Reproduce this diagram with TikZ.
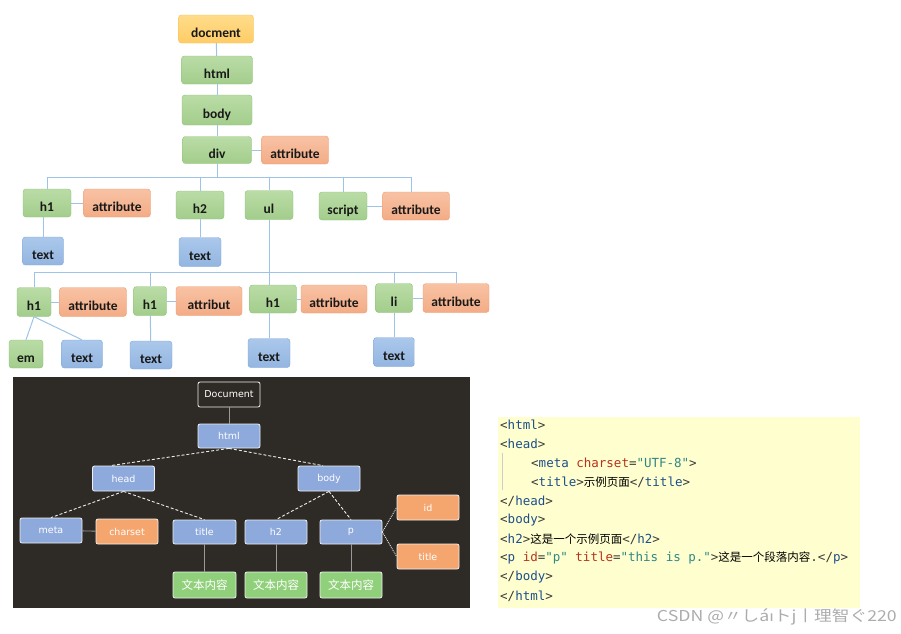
\documentclass[tikz,border=0pt]{standalone}
\usepackage{fontspec}
\usepackage{xcolor}
\usepackage{graphicx}
\usepackage{tikz}
\usetikzlibrary{positioning,calc}
\newfontfamily\treefont{Carlito}
\newfontfamily\panelfont{DejaVu Sans}
\newfontfamily\codefont{DejaVu Sans Mono}
\newfontfamily\cjk{Noto Sans CJK SC}
\definecolor{linkblue}{HTML}{9DC3E6}
\definecolor{greentop}{HTML}{BADCA6}
\definecolor{greenbot}{HTML}{A3CD8C}
\definecolor{greenline}{HTML}{8CC277}
\definecolor{orangetop}{HTML}{F8C2A4}
\definecolor{orangebot}{HTML}{F3AC86}
\definecolor{orangeline}{HTML}{EF9C6E}
\definecolor{bluetop}{HTML}{ABC8EB}
\definecolor{bluebot}{HTML}{93B5E0}
\definecolor{blueline}{HTML}{7FA6D8}
\definecolor{yellowtop}{HTML}{FFDC8A}
\definecolor{yellowbot}{HTML}{FFCC66}
\definecolor{yellowline}{HTML}{F5C04F}
\definecolor{panelbg}{HTML}{2E2B27}
\definecolor{panelblue}{HTML}{8EA9DB}
\definecolor{panelorange}{HTML}{F5A66F}
\definecolor{panelgreen}{HTML}{90D07B}
\definecolor{codebg}{HTML}{FEFECE}
\definecolor{tagc}{HTML}{1E4E8C}
\definecolor{attrc}{HTML}{B8321E}
\definecolor{valc}{HTML}{2E8787}
\definecolor{bracketc}{HTML}{3A3A3A}
\newcommand\tg[1]{\textcolor{tagc}{#1}}
\newcommand\ak[1]{\textcolor{attrc}{#1}}
\newcommand\av[1]{\textcolor{valc}{#1}}
\newcommand\zh[1]{{\cjk\fontsize{11.5}{14}\selectfont\color{black}#1}}

\begin{document}
\begin{tikzpicture}[x=1pt,y=-1pt,
  tbox/.style={rounded corners=3pt, inner sep=0pt, minimum height=28,
    text height=16pt, text depth=0pt,
    font=\treefont\bfseries\fontsize{13.5}{15}\selectfont, text=black!90},
  gbox/.style={tbox, draw=greenline, top color=greentop, bottom color=greenbot},
  obox/.style={tbox, draw=orangeline, top color=orangetop, bottom color=orangebot},
  bbox/.style={tbox, draw=blueline, top color=bluetop, bottom color=bluebot},
  ybox/.style={tbox, draw=yellowline, top color=yellowtop, bottom color=yellowbot},
  link/.style={draw=linkblue, line width=1pt},
  pbox/.style={rounded corners=2pt, draw=white!88!gray, line width=0.8pt, inner sep=0pt,
    minimum width=62, minimum height=25, text=white,
    font=\panelfont\fontsize{9.5}{11}\selectfont},
  pblue/.style={pbox, fill=panelblue},
  porange/.style={pbox, fill=panelorange},
  pgreen/.style={pbox, fill=panelgreen, font=\cjk\fontsize{11.5}{13}\selectfont},
  plink/.style={draw=white!85!gray, line width=0.9pt, densely dashed},
  pstem/.style={draw=gray!80, line width=0.9pt},
  code/.style={anchor=west, inner sep=0pt, text=bracketc,
    font=\codefont\fontsize{12.5}{14}\selectfont},
]
\useasboundingbox (0,0) rectangle (901,633);

% Top tree
\node[ybox, minimum width=75] (docment) at (216,29) {docment};
\node[gbox, minimum width=71] (html) at (217,70) {html};
\node[gbox, minimum width=70, minimum height=30] (body) at (217,110) {body};
\node[gbox, minimum width=69, minimum height=27] (div) at (217,150) {div};
\node[obox, minimum width=67] (divattr) at (295,150) {attribute};
% second row
\node[gbox, minimum width=48] (h1a) at (47,203) {h1};
\node[obox, minimum width=67] (h1aattr) at (117,203) {attribute};
\node[gbox, minimum width=48] (h2) at (200,205) {h2};
\node[gbox, minimum width=48, minimum height=29] (ul) at (269,205) {ul};
\node[gbox, minimum width=48] (script) at (343,206) {script};
\node[obox, minimum width=67] (scriptattr) at (416,206) {attribute};
\node[bbox, minimum width=41] (texta) at (43,251) {text};
\node[bbox, minimum width=42, minimum height=29] (textb) at (200,252) {text};
% third row
\node[gbox, minimum width=34, minimum height=29] (h1b) at (34,302) {h1};
\node[obox, minimum width=67, minimum height=29] (h1battr) at (93,302) {attribute};
\node[gbox, minimum width=33, minimum height=29] (h1c) at (150,301) {h1};
\node[obox, minimum width=66, minimum height=29] (h1cattr) at (209,301) {attribut};
\node[gbox, minimum width=47] (h1d) at (273,299) {h1};
\node[obox, minimum width=66] (h1dattr) at (334,299) {attribute};
\node[gbox, minimum width=37, minimum height=29] (li) at (394,298) {li};
\node[obox, minimum width=66, minimum height=29] (liattr) at (456,298) {attribute};
\node[gbox, minimum width=34] (em) at (26,354) {em};
\node[bbox, minimum width=41] (textc) at (82,354) {text};
\node[bbox, minimum width=42] (textd) at (151,355) {text};
\node[bbox, minimum width=42, minimum height=29] (texte) at (269,353) {text};
\node[bbox, minimum width=41, minimum height=29] (textf) at (394,352) {text};

% Top tree links
\coordinate (bus1) at (0,177);
\coordinate (bus2) at (0,272);
\coordinate (sa) at ([xshift=-5pt]scriptattr.north);
\draw[link] (docment) -- (html);
\draw[link] (html) -- (body);
\draw[link] (body) -- (div);
\draw[link] (div) -- (divattr);
\draw[link] (div.south) -- (div.south |- bus1);
\draw[link] (h1a.north |- bus1) -- (sa |- bus1);
\foreach \n in {h1a,h2,ul,script} {
  \draw[link] (\n.north |- bus1) -- (\n.north);
}
\draw[link] (sa |- bus1) -- (sa);
\draw[link] (h1a) -- (h1aattr);
\draw[link] (script) -- (scriptattr);
\draw[link] (texta.north |- h1a.south) -- (texta.north);
\draw[link] (h2) -- (textb);
\draw[link] (ul.south) -- (ul.south |- h1d.north);
\draw[link] (h1b.north |- bus2) -- (liattr.north |- bus2);
\foreach \n in {h1b,h1c,li,liattr} {
  \draw[link] (\n.north |- bus2) -- (\n.north);
}
\foreach \a/\b in {h1b/h1battr,h1c/h1cattr,h1d/h1dattr,li/liattr} {
  \draw[link] (\a) -- (\b);
}
\draw[link] (h1b.south) -- (em.north);
\draw[link] (h1b.south) -- (textc.north);
\draw[link] (h1c) -- (textd);
\draw[link] (texte.north |- h1d.south) -- (texte.north);
\draw[link] (li) -- (textf);

% Dark panel
\fill[panelbg] (13,377) rectangle (470,608);
\node[pbox, fill=panelbg] (pdoc) at (229,394.5) {Document};
\node[pblue, minimum height=24] (phtml) at (229,436) {html};
\node[pblue] (phead) at (123.5,478.5) {head};
\node[pblue] (pbody) at (329,478.5) {body};
\node[pblue] (pmeta) at (51,530.5) {meta};
\node[porange] (pcharset) at (127,531.5) {charset};
\node[pblue, minimum width=63, minimum height=24] (ptitle) at (204.5,532) {title};
\node[pblue, minimum height=24] (ph2) at (276,532) {h2};
\node[pblue, minimum height=24] (pp) at (351,532) {p};
\node[porange] (pid) at (428,507.5) {id};
\node[porange] (pattr) at (428,556.5) {title};
\node[pgreen, minimum width=63, minimum height=26] (ptxt1) at (204.5,585) {文本内容};
\node[pgreen, minimum height=26] (ptxt2) at (276,585) {文本内容};
\node[pgreen, minimum height=26] (ptxt3) at (351,585) {文本内容};

% Panel links
\draw[pstem] (pdoc) -- (phtml);
\draw[plink] (phtml.south) -- ([xshift=-13pt]phead.north);
\draw[plink] (phtml.south) -- ([xshift=-6pt]pbody.north);
\draw[plink] (phead.south) -- (pmeta.north);
\draw[plink] (phead.south) -- (ptitle.north);
\draw[plink] (pbody.south) -- (ph2.north);
\draw[plink] (pbody.south) -- (pp.north);
\draw[pstem] (pmeta) -- (pcharset);
\draw[plink, densely dotted] (pp.east) -- (pid.west);
\draw[plink, densely dotted] (pp.east) -- (pattr.west);
\draw[pstem] (ptitle) -- (ptxt1);
\draw[pstem] (ph2) -- (ptxt2);
\draw[pstem] (pp) -- (ptxt3);

% Source code
\fill[codebg] (498,417) rectangle (860,608);
\draw[gray!40, line width=0.6pt] (502,453) -- (502,490);
\node[code] (l1) at (500,425) {<\tg{html}>};
\node[code] (l2) at (500,444) {<\tg{head}>};
\node[code] (l3) at (531,463) {<\tg{meta} \ak{charset}=\av{"UTF-8"}>};
\node[code] (l4) at (531,482) {<\tg{title}>\zh{示例页面}</\tg{title}>};
\node[code] (l5) at (500,501) {</\tg{head}>};
\node[code] (l6) at (500,520) {<\tg{body}>};
\node[code] (l7) at (500,539) {<\tg{h2}>\zh{这是一个示例页面}</\tg{h2}>};
\node[code] (l8) at (500,558) {<\tg{p} \ak{id}=\av{"p"} \ak{title}=\av{"this is p."}>\zh{这是一个段落内容}.</\tg{p}>};
\node[code] (l9) at (500,577) {</\tg{body}>};
\node[code] (l10) at (500,596) {</\tg{html}>};

% Watermark
\node[anchor=east, inner sep=0pt, text=gray!65, font=\cjk\fontsize{15}{17}\selectfont] (mark) at (897,617) {\scalebox{1.18}[1]{CSDN @〃しá{\panelfont\fontsize{14}{17}\selectfont ı}トj丨理智ぐ220}};
\end{tikzpicture}
\end{document}
